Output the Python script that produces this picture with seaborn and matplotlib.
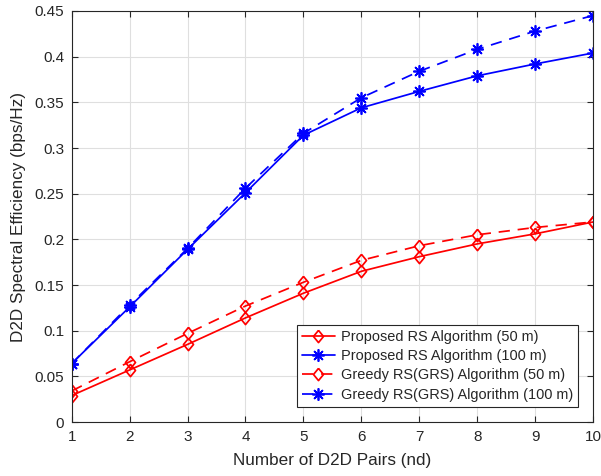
import matplotlib
matplotlib.use("Agg")
import matplotlib.pyplot as plt
import matplotlib.ticker as mticker
import numpy as np
import pandas as pd
import seaborn as sns

# Number of D2D pairs and spectral efficiency (bps/Hz) per scheme
pairs = [1, 2, 3, 4, 5, 6, 7, 8, 9, 10]
rs_50 = [0.029, 0.057, 0.085, 0.114, 0.141, 0.165, 0.181, 0.195, 0.206, 0.219]
rs_100 = [0.064, 0.126, 0.189, 0.251, 0.314, 0.344, 0.362, 0.379, 0.392, 0.404]
grs_50 = [0.034, 0.066, 0.097, 0.127, 0.153, 0.177, 0.193, 0.205, 0.213, 0.219]
grs_100 = [0.064, 0.128, 0.190, 0.256, 0.316, 0.355, 0.384, 0.408, 0.428, 0.445]

series_labels = [
    "Proposed RS Algorithm (50 m)",
    "Proposed RS Algorithm (100 m)",
    "Greedy RS(GRS) Algorithm (50 m)",
    "Greedy RS(GRS) Algorithm (100 m)",
]
y_ticks = [0, 0.05, 0.1, 0.15, 0.2, 0.25, 0.3, 0.35, 0.4, 0.45]

sns.set_theme(style="whitegrid")
plt.rcParams["font.family"] = ["Liberation Sans", "DejaVu Sans"]

ink = "#262626"
diamond = [(0, 1), (0.82, 0), (0, -1), (-0.82, 0), (0, 1)]
asterisk = (8, 2, 0)
long_dash = (0, (6.5, 4.5))

styles = [
    dict(color="red", marker=diamond, linestyle="-"),
    dict(color="blue", marker=asterisk, linestyle="-"),
    dict(color="red", marker=diamond, linestyle=long_dash),
    dict(color="blue", marker=asterisk, linestyle=long_dash),
]
values = [rs_50, rs_100, grs_50, grs_100]

fig = plt.figure(figsize=(6.01, 4.76), dpi=100)
ax = fig.add_axes([0.1193, 0.1134, 0.8674, 0.8635])
ax.set_facecolor("white")

for vals, lab, st in zip(values, series_labels, styles):
    df = pd.DataFrame({"pairs": pairs, "se": vals})
    sns.lineplot(
        data=df, x="pairs", y="se", ax=ax, label=lab,
        color=st["color"], marker=st["marker"], linestyle=st["linestyle"],
        markersize=8.8, markerfacecolor="none", markeredgecolor=st["color"],
        markeredgewidth=1.25, linewidth=1.25,
    )

ax.set_xlim(1, 10)
ax.set_ylim(0, 0.45)
ax.set_xticks(pairs)
ax.set_yticks(y_ticks)
ax.yaxis.set_major_formatter(mticker.FormatStrFormatter("%g"))

ax.grid(True, color="#dfdfdf", linewidth=0.8)
for sp in ax.spines.values():
    sp.set_visible(True)
    sp.set_color(ink)
    sp.set_linewidth(0.8)
ax.tick_params(direction="in", length=4, width=0.8, color=ink,
               labelcolor=ink, labelsize=11, pad=5.5,
               top=True, right=True, bottom=True, left=True)

ax.set_xlabel("Number of D2D Pairs (nd)", fontsize=12.3, color=ink, labelpad=7)
ax.set_ylabel("D2D Spectral Efficiency (bps/Hz)", fontsize=12.3, color=ink, labelpad=6)

leg = ax.legend(
    loc="lower left", bbox_to_anchor=(0.4316, 0.0372),
    fontsize=10.45, frameon=True, fancybox=False, framealpha=1,
    edgecolor=ink, handlelength=2.3, handletextpad=0.4,
    labelspacing=0.36, borderpad=0.35, borderaxespad=0,
)
leg.get_frame().set_linewidth(0.8)
for t in leg.get_texts():
    t.set_color(ink)

fig.savefig("out.png", dpi=100, facecolor="white")
